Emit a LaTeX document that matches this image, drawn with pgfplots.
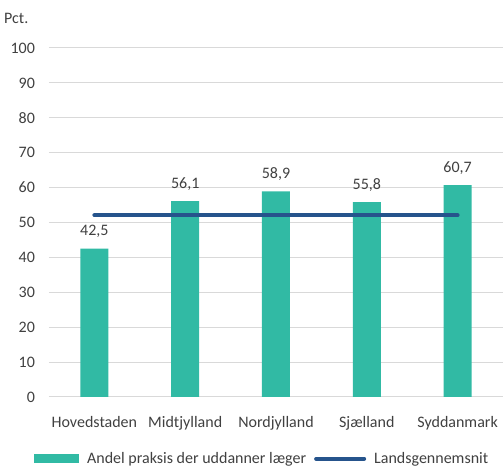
\documentclass[border=0pt]{standalone}
\usepackage{pgfplots}
\pgfplotsset{compat=1.18}
\usepackage{fontspec}
\setmainfont{Carlito}
\definecolor{barteal}{RGB}{49,186,164}
\definecolor{avgblue}{RGB}{38,84,140}
\definecolor{txt}{RGB}{64,64,64}
\definecolor{gridc}{RGB}{217,217,217}
\begin{document}
\begin{tikzpicture}[x=1pt,y=1pt,font=\fontsize{12}{14}\selectfont,text=txt]
\begin{axis}[
  scale only axis,
  width=340.5pt, height=261.75pt,
  xmin=-0.5, xmax=4.5, ymin=0, ymax=100,
  ytick={0,10,...,100},
  xtick={0,1,2,3,4},
  xticklabels={Hovedstaden,Midtjylland,Nordjylland,Sjælland,Syddanmark},
  axis line style={draw=none},
  ymajorgrids, grid style={gridc, line width=0.75pt},
  major tick length=0pt,
  tick label style={font=\fontsize{12}{14}\selectfont, text=txt},
  /pgf/number format/assume math mode=true,
  yticklabel style={anchor=east, xshift=-7pt},
  xticklabel style={anchor=north, yshift=-11pt},
  legend style={draw=none, at={(0.47,-0.15)}, anchor=north, legend columns=2,
    font=\fontsize{12}{14}\selectfont, text=txt, column sep=4pt, inner sep=0pt},
  legend cell align=left,
  clip=false,
]
\addplot[ybar, bar width=21pt, fill=barteal, draw=none,
  nodes near coords,
  every node near coord/.append style={text=txt, yshift=4.5pt, font=\fontsize{12}{14}\selectfont},
  nodes near coords style={/pgf/number format/.cd, fixed, fixed zerofill, precision=1, use comma, assume math mode=true},
  area legend,
  legend image code/.code={\fill[barteal] (0pt,-3pt) rectangle (34pt,3.5pt);}
] coordinates {(0,42.5) (1,56.1) (2,58.9) (3,55.8) (4,60.7)};
\addlegendentry{Andel praksis der uddanner læger}
\addplot[avgblue, line width=3pt, line cap=round, mark=none,
  legend image code/.code={\draw[avgblue, line width=3pt, line cap=round] (1pt,0pt) -- (37pt,0pt);}
] coordinates {(0,52.1) (4,52.1)};
\addlegendentry{Landsgennemsnit}
\node[anchor=base east, text=txt] at (rel axis cs:-0.0352,1.07) {Pct.};
\coordinate (bl) at (rel axis cs:-0.1079,-0.212);
\coordinate (tr) at (rel axis cs:1,1.1375);
\end{axis}
\pgfresetboundingbox
\useasboundingbox (bl) rectangle (tr);
\end{tikzpicture}
\end{document}
